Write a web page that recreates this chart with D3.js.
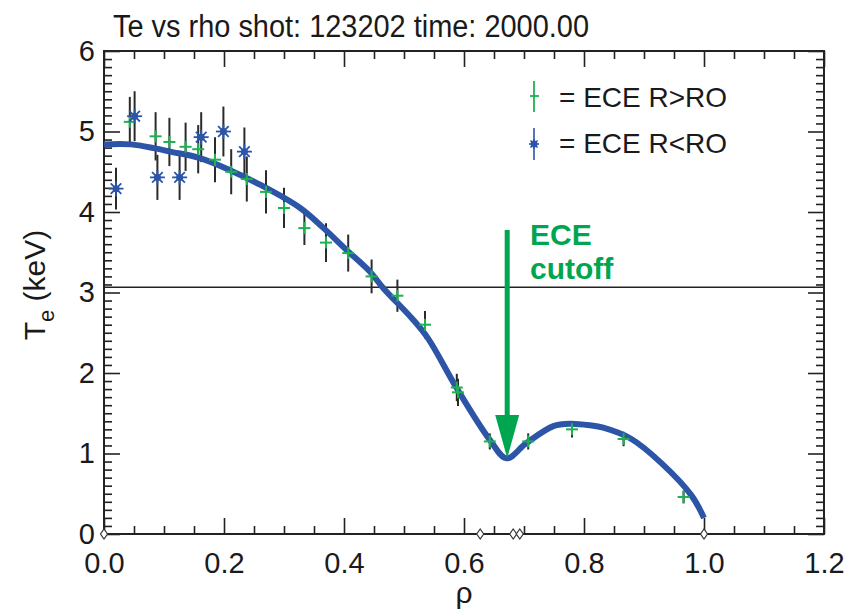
<!DOCTYPE html>
<html>
<head>
  <meta charset="utf-8">
  <meta name="viewport" content="width=device-width">
<style type="text/css">
  body { margin: 0; background: #fff; }
  text { font-family: "Liberation Sans", Arial, Helvetica, sans-serif; fill: #1a1a1a; }
</style>
</head>
<script src="https://cdn.jsdelivr.net/npm/d3@7"></script>
<body>
<script>
  var w = 846;
  var h = 610;

  // ECE R>RO channels (green +)
  var greenRho = [0.043, 0.086, 0.109, 0.136, 0.157, 0.185, 0.212, 0.238, 0.270, 0.300, 0.334, 0.370,
                  0.407, 0.446, 0.489, 0.535, 0.588, 0.590, 0.643, 0.707, 0.780, 0.866, 0.966];
  var greenTe  = [5.12, 4.94, 4.87, 4.81, 4.78, 4.65, 4.50, 4.41, 4.25, 4.05, 3.80, 3.62,
                  3.49, 3.20, 2.96, 2.60, 1.82, 1.76, 1.15, 1.15, 1.30, 1.18, 0.46];
  var greenErr = [0.31, 0.30, 0.30, 0.30, 0.30, 0.28, 0.28, 0.28, 0.27, 0.25, 0.21, 0.24,
                  0.23, 0.21, 0.20, 0.17, 0.17, 0.17, 0.10, 0.10, 0.10, 0.09, 0.08];

  // ECE R<RO channels (blue *)
  var blueRho = [0.020, 0.051, 0.089, 0.126, 0.162, 0.199, 0.234];
  var blueTe  = [4.29, 5.19, 4.43, 4.43, 4.93, 5.00, 4.75];
  var blueErr = [0.26, 0.31, 0.28, 0.28, 0.31, 0.31, 0.30];

  // fitted profile
  var fitRho = [0.0, 0.045, 0.085, 0.11, 0.16, 0.21, 0.26, 0.327, 0.366, 0.404, 0.443,
                0.466, 0.513, 0.54, 0.588, 0.643, 0.671, 0.704, 0.749, 0.777, 0.81, 0.832, 0.879,
                0.929, 0.979, 1.0];
  var fitTe  = [4.84, 4.84, 4.79, 4.75, 4.67, 4.52, 4.34, 4.05, 3.80, 3.53, 3.26,
                3.05, 2.68, 2.43, 1.81, 1.17, 0.94, 1.13, 1.34, 1.37, 1.35, 1.32, 1.18,
                0.88, 0.48, 0.20];

  var knotRho = [0.0, 0.627, 0.682, 0.693, 1.0];
  var xMajor = [0.0, 0.2, 0.4, 0.6, 0.8, 1.0, 1.2];
  var yMajor = [0, 1, 2, 3, 4, 5, 6];
  var refTe = 3.065;
  var cutoffRho = 0.672;

  var x = d3.scaleLinear().domain([0, 1.2]).range([104, 824]);
  var y = d3.scaleLinear().domain([0, 6]).range([534, 51]);

  var svg = d3.select("body").append("svg").attr("width", w).attr("height", h);

  var green = "#1fb050";
  var blue = "#2c55a8";
  var dark = "#222";

  var xMinor = d3.range(0, 1.2001, 0.05).filter(function (v) { return Math.abs(v / 0.2 - Math.round(v / 0.2)) > 1e-6; });
  var yMinor = d3.range(0, 6.0001, 0.1).filter(function (v) { return Math.abs(v - Math.round(v)) > 1e-6; });

  function styleAxis(g) {
    g.select(".domain").remove();
    g.selectAll("line").attr("stroke", dark).attr("stroke-width", 1.6);
  }

  // bottom
  svg.append("g").attr("transform", "translate(0,534)")
     .call(d3.axisBottom(x).tickValues(xMajor).tickSize(-16).tickPadding(18).tickFormat(d3.format(".1f")))
     .call(styleAxis)
     .selectAll("text").attr("font-size", 29).attr("fill", dark);
  svg.append("g").attr("transform", "translate(0,534)")
     .call(d3.axisBottom(x).tickValues(xMinor).tickSize(-8).tickFormat(""))
     .call(styleAxis);
  // top
  svg.append("g").attr("transform", "translate(0,51)")
     .call(d3.axisTop(x).tickValues(xMajor).tickSize(-16).tickFormat(""))
     .call(styleAxis);
  svg.append("g").attr("transform", "translate(0,51)")
     .call(d3.axisTop(x).tickValues(xMinor).tickSize(-8).tickFormat(""))
     .call(styleAxis);
  // left
  svg.append("g").attr("transform", "translate(104,0)")
     .call(d3.axisLeft(y).tickValues(yMajor).tickSize(-16).tickPadding(9).tickFormat(d3.format("d")))
     .call(styleAxis)
     .selectAll("text").attr("font-size", 29).attr("fill", dark);
  svg.append("g").attr("transform", "translate(104,0)")
     .call(d3.axisLeft(y).tickValues(yMinor).tickSize(-8).tickFormat(""))
     .call(styleAxis);
  // right
  svg.append("g").attr("transform", "translate(824,0)")
     .call(d3.axisRight(y).tickValues(yMajor).tickSize(-16).tickFormat(""))
     .call(styleAxis);
  svg.append("g").attr("transform", "translate(824,0)")
     .call(d3.axisRight(y).tickValues(yMinor).tickSize(-8).tickFormat(""))
     .call(styleAxis);

  svg.append("rect")
     .attr("x", x(0)).attr("y", y(6))
     .attr("width", x(1.2) - x(0)).attr("height", y(0) - y(6))
     .attr("fill", "none").attr("stroke", dark).attr("stroke-width", 2);

  // reference line
  svg.append("line")
     .attr("x1", x(0)).attr("x2", x(1.2))
     .attr("y1", y(refTe)).attr("y2", y(refTe))
     .attr("stroke", dark).attr("stroke-width", 1.6);

  // error bars
  var bars = [];
  greenRho.forEach(function (r, i) { bars.push([r, greenTe[i], greenErr[i]]); });
  blueRho.forEach(function (r, i) { bars.push([r, blueTe[i], blueErr[i]]); });
  svg.append("g").selectAll("line").data(bars).enter().append("line")
     .attr("x1", function (d) { return x(d[0]); })
     .attr("x2", function (d) { return x(d[0]); })
     .attr("y1", function (d) { return y(d[1] + d[2]); })
     .attr("y2", function (d) { return y(d[1] - d[2]); })
     .attr("stroke", "#2a2a2a").attr("stroke-width", 2);

  // fit
  var line = d3.line()
    .x(function (d, i) { return x(fitRho[i]); })
    .y(function (d, i) { return y(fitTe[i]); })
    .curve(d3.curveCatmullRom.alpha(0.5));
  svg.append("path").datum(fitRho).attr("d", line)
     .attr("fill", "none").attr("stroke", blue).attr("stroke-width", 6)
     .attr("stroke-linejoin", "round");

  // green plus markers
  function plus(g, cx, cy, s) {
    g.append("line").attr("x1", cx - s).attr("x2", cx + s).attr("y1", cy).attr("y2", cy);
    g.append("line").attr("x1", cx).attr("x2", cx).attr("y1", cy - s).attr("y2", cy + s);
  }
  var gp = svg.append("g").attr("stroke", green).attr("stroke-width", 2);
  greenRho.forEach(function (r, i) { plus(gp, x(r), y(greenTe[i]), 6); });

  // blue asterisk markers
  function star(g, cx, cy, s) {
    for (var k = 0; k < 4; k++) {
      var a = k * Math.PI / 4;
      g.append("line")
       .attr("x1", cx - s * Math.cos(a)).attr("y1", cy - s * Math.sin(a))
       .attr("x2", cx + s * Math.cos(a)).attr("y2", cy + s * Math.sin(a));
    }
    g.append("circle").attr("cx", cx).attr("cy", cy).attr("r", 2.6).attr("fill", blue);
  }
  var gs = svg.append("g").attr("stroke", blue).attr("stroke-width", 1.8);
  blueRho.forEach(function (r, i) { star(gs, x(r), y(blueTe[i]), 7.5); });

  // knot diamonds on the axis
  svg.append("g").selectAll("path").data(knotRho).enter().append("path")
     .attr("d", function (d) { var cx = x(d), cy = y(0); return "M" + cx + "," + (cy - 5) + "L" + (cx + 3.5) + "," + cy + "L" + cx + "," + (cy + 5) + "L" + (cx - 3.5) + "," + cy + "Z"; })
     .attr("fill", "#fff").attr("stroke", "#333").attr("stroke-width", 1.2);

  // cutoff arrow
  var ax = x(cutoffRho);
  svg.append("line").attr("x1", ax).attr("x2", ax).attr("y1", 230).attr("y2", 420)
     .attr("stroke", "#00a64f").attr("stroke-width", 5);
  svg.append("path")
     .attr("d", "M" + (ax - 12) + ",415L" + (ax + 12) + ",415L" + ax + ",458Z")
     .attr("fill", "#00a64f");
  svg.append("text").attr("x", 530).attr("y", 245).attr("font-size", 30).attr("font-weight", "bold")
     .style("fill", "#00a64f").text("ECE");
  svg.append("text").attr("x", 530).attr("y", 279).attr("font-size", 30).attr("font-weight", "bold")
     .style("fill", "#00a64f").text("cutoff");

  // legend
  var lg = svg.append("g");
  lg.append("line").attr("x1", 534).attr("x2", 534).attr("y1", 81).attr("y2", 112).attr("stroke", green).attr("stroke-width", 1.8);
  lg.append("line").attr("x1", 530).attr("x2", 539).attr("y1", 96).attr("y2", 96).attr("stroke", green).attr("stroke-width", 1.8);
  lg.append("text").attr("x", 559).attr("y", 107).attr("font-size", 28).text("= ECE R>RO");
  var ls = lg.append("g").attr("stroke", blue).attr("stroke-width", 1.6);
  ls.append("line").attr("x1", 534).attr("x2", 534).attr("y1", 128).attr("y2", 160);
  star(ls, 534, 144, 5);
  lg.append("text").attr("x", 559).attr("y", 153).attr("font-size", 28).text("= ECE R<RO");

  // title and axis labels
  svg.append("text").attr("x", 113).attr("y", 37).attr("font-size", 31)
     .attr("textLength", 476).attr("lengthAdjust", "spacingAndGlyphs")
     .text("Te vs rho shot: 123202 time: 2000.00");

  var yl = svg.append("text").attr("transform", "translate(45,285) rotate(-90)")
     .attr("text-anchor", "middle").attr("font-size", 30);
  yl.append("tspan").text("T");
  yl.append("tspan").attr("dy", 9).attr("font-size", 22).text("e");
  yl.append("tspan").attr("dy", -9).text(" (keV)");

  svg.append("text").attr("x", x(0.6)).attr("y", 603).attr("text-anchor", "middle")
     .attr("font-size", 30).text("ρ");
</script>
</body>
</html>
